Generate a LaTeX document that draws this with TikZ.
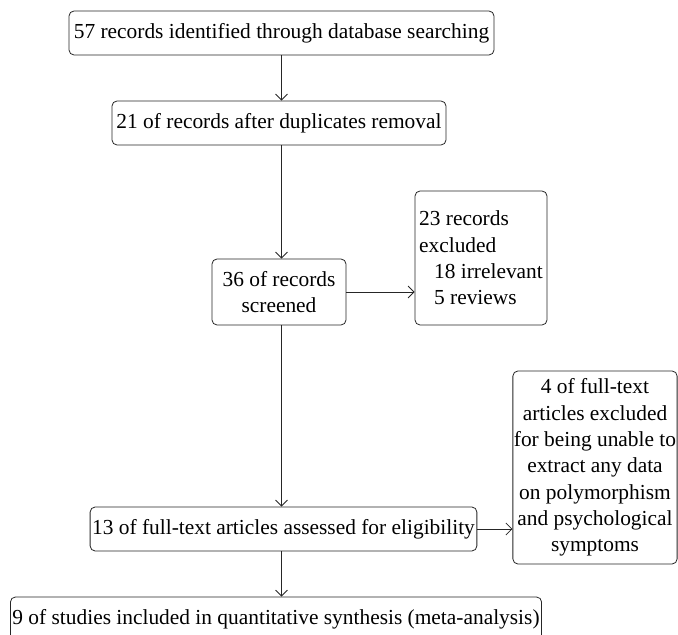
\documentclass[tikz,border=0pt]{standalone}
\usepackage{fontspec}
\setmainfont{Liberation Serif}
\usetikzlibrary{arrows.meta}

\begin{document}
\begin{tikzpicture}[
		x=1pt, y=1pt,
		flowbox/.style={rectangle, rounded corners=5pt, draw=black!85, line width=0.8pt, inner sep=2pt, minimum height=44pt, align=center, font=\fontsize{21.4}{26.3}\selectfont},
		flowarrow/.style={draw=black!85, line width=0.8pt, -{Straight Barb[length=6pt,width=12pt]}},
	]
	
		\useasboundingbox (0,0) rectangle (678,635);
	
		%Nodes
		\node[flowbox, minimum width=425pt]	(n57)	at (281.5,602)	{57 records identified through database searching};
		\node[flowbox, minimum width=334pt]	(n21)	at (279,512)	{21 of records after duplicates removal};
		\node[flowbox, minimum width=134pt, minimum height=66pt]	(n36)	at (279,343)	{36 of records\\screened};
		\node[flowbox, minimum width=132pt, minimum height=134pt, align=left]	(nexcl)	at (481,377)	{23 records\\excluded\\\hspace*{15pt}18 irrelevant\\\hspace*{15pt}5 reviews};
		\node[flowbox, minimum width=385pt]	(n13)	at (283.5,106)	{13 of full-text articles assessed for eligibility};
		\node[flowbox, minimum width=164pt, minimum height=193pt, inner sep=1pt]	(nfull)	at (595,167.5)	{4 of full-text\\articles excluded\\for being unable to\\extract any data\\on polymorphism\\and psychological\\symptoms};
		\node[flowbox, minimum width=530pt]	(n9)	at (276,16)	{9 of studies included in quantitative synthesis (meta-analysis)};
	
		%Lines
		\draw[flowarrow]	(n57.south) -- (n57.south |- n21.north);
		\draw[flowarrow]	(n57.south |- n21.south) -- (n57.south |- n36.north);
		\draw[flowarrow]	(n57.south |- n36.south) -- (n57.south |- n13.north);
		\draw[flowarrow]	(n57.south |- n13.south) -- (n57.south |- n9.north);
		\draw[flowarrow]	(n36.east) -- (n36.east -| nexcl.west);
		\draw[flowarrow]	(n13.east) -- (n13.east -| nfull.west);
	
\end{tikzpicture}
\end{document}
